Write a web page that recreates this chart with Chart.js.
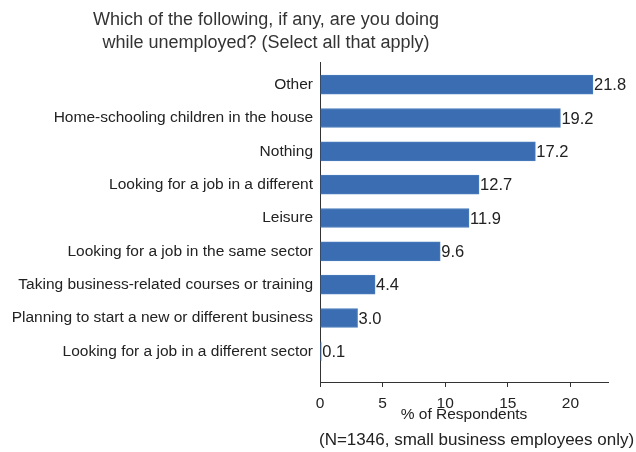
<!DOCTYPE html>
<html>
<head>
<meta charset="utf-8">
<script src="https://cdn.jsdelivr.net/npm/chart.js@4.4.1/dist/chart.umd.min.js"></script>
<style>
  html, body { margin: 0; padding: 0; background: #fff; }
  #wrap { width: 636px; height: 452px; position: relative; }
</style>
</head>
<body>
<div id="wrap"><canvas id="myChart" width="636" height="452"></canvas></div>
<script>
const categories = [
  'Other',
  'Home-schooling children in the house',
  'Nothing',
  'Looking for a job in a different',
  'Leisure',
  'Looking for a job in the same sector',
  'Taking business-related courses or training',
  'Planning to start a new or different business',
  'Looking for a job in a different sector'
];
const percentages = [21.8, 19.2, 17.2, 12.7, 11.9, 9.6, 4.4, 3.0, 0.1];
const xTicks = [0, 5, 10, 15, 20];
const titleLines = [
  'Which of the following, if any, are you doing',
  'while unemployed? (Select all that apply)'
];
const footnote = '(N=1346, small business employees only)';

const barColor = '#3a6db1';
const textColor = '#222';
const font = 'Arial, "Liberation Sans", sans-serif';

// title, footnote and bar value labels
const textPlugin = {
  id: 'textPlugin',
  afterDraw(chart) {
    const c = chart.ctx;
    c.save();
    c.fillStyle = '#333';
    c.font = '18px ' + font;
    c.textAlign = 'center';
    c.textBaseline = 'middle';
    c.fillText(titleLines[0], 266, 20);
    c.fillText(titleLines[1], 266, 43);

    c.fillStyle = textColor;
    c.font = '17px ' + font;
    c.textAlign = 'left';
    c.fillText(footnote, 319, 440);

    c.font = '16.5px ' + font;
    const meta = chart.getDatasetMeta(0);
    meta.data.forEach((bar, i) => {
      c.fillText(percentages[i].toFixed(1), bar.x + 1, bar.y + 1);
    });
    c.restore();
  }
};

const ctx = document.getElementById('myChart');

new Chart(ctx, {
  type: 'bar',
  data: {
    datasets: [{
      data: percentages.map((v, i) => ({ x: v, y: i })),
      backgroundColor: barColor,
      borderColor: '#4a7cbd',
      borderWidth: 1,
      barThickness: 19
    }]
  },
  options: {
    indexAxis: 'y',
    responsive: false,
    animation: false,
    layout: { padding: { top: 62, right: 28, left: 0, bottom: 28 } },
    plugins: {
      legend: { display: false },
      tooltip: { enabled: false }
    },
    scales: {
      y: {
        type: 'linear',
        reverse: true,
        offset: false,
        bounds: 'data',
        min: -0.68,
        max: 8.92,
        afterBuildTicks: (scale) => {
          scale.ticks = categories.map((_, i) => ({ value: i }));
        },
        afterFit: (scale) => { scale.width = 320; },
        grid: { display: false, drawTicks: false },
        border: { display: true, color: '#333', width: 1 },
        ticks: {
          padding: 7,
          color: textColor,
          font: { family: font, size: 15.5 },
          callback: (v) => categories[v]
        }
      },
      x: {
        type: 'linear',
        min: 0,
        max: 23,
        afterBuildTicks: (scale) => {
          scale.ticks = xTicks.map(v => ({ value: v }));
        },
        afterFit: (scale) => { scale.height = 42; },
        grid: { drawOnChartArea: false, drawTicks: true, tickLength: 5, color: '#333' },
        border: { display: true, color: '#333', width: 1 },
        ticks: {
          padding: 7,
          color: textColor,
          font: { family: font, size: 15.5 }
        },
        title: {
          display: true,
          text: '% of Respondents',
          color: textColor,
          font: { family: font, size: 15.5 },
          padding: { top: 0, bottom: 0 }
        }
      }
    }
  },
  plugins: [textPlugin]
});
</script>
</body>
</html>
